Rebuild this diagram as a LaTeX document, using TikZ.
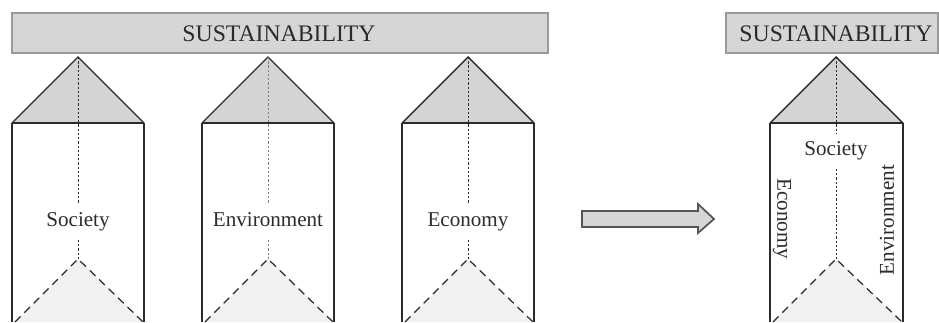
\documentclass[tikz,border=0pt]{standalone}
\usepackage{fontspec}
\setmainfont{Liberation Serif}
\usetikzlibrary{positioning}
\definecolor{bargray}{HTML}{D6D6D6}
\definecolor{barline}{HTML}{9A9A9A}
\definecolor{roofgray}{HTML}{D4D4D4}
\definecolor{floorgray}{HTML}{F1F1F1}
\definecolor{inkgray}{HTML}{2B2B2B}
\tikzset{
  every node/.style={text=inkgray},
  bar/.style={draw=barline, fill=bargray, line width=0.8pt},
  bartext/.style={font=\fontsize{13.5}{16}\selectfont, inner sep=0pt},
  pillartext/.style={font=\fontsize{12}{14}\selectfont, inner sep=1pt, text height=8pt, text depth=2.6pt, minimum height=0.7cm},
  roof/.style={draw=inkgray, line width=0.8pt, line join=miter},
  wall/.style={draw=inkgray, line width=0.9pt},
  beam/.style={draw=inkgray, line width=1.3pt},
  floorline/.style={draw=inkgray, line width=0.7pt, dash pattern=on 4.5pt off 3pt},
  axis/.style={draw=inkgray, line width=0.5pt, dash pattern=on 1.3pt off 1.1pt},
  axislight/.style={draw=gray, line width=0.5pt, dash pattern=on 1.3pt off 1.1pt},
  bigarrow/.style={draw=inkgray!80, fill=bargray, line width=1pt, line join=miter},
}
\begin{document}
\begin{tikzpicture}[x=0.02cm,y=0.02cm]
                \useasboundingbox (0,0) rectangle (939,322);

                % top bars
                \draw[bar] (12,269) rectangle (548,309);
                \node[bartext] (sustLeft) at (279,288.5){SUSTAINABILITY};
                \draw[bar] (726,269) rectangle (938,309);
                \node[bartext] (sustRight) at (836,288.5){SUSTAINABILITY};

                % society
                \coordinate (apexA) at (78,265);
                \coordinate (lowA) at (78,63);
                \fill[roofgray] (12,199) -- (apexA) -- (144,199) -- cycle;
                \draw[roof] (12,199) -- (apexA) -- (144,199);
                \fill[floorgray] (lowA) -- (15,0) -- (143,0) -- cycle;
                \draw[floorline] (15,0) -- (lowA) -- (143,0);
                \node[pillartext] (societyA) at (78,100){Society};
                \draw[axis] (apexA) -- (societyA);
                \draw[axis] (societyA) -- (lowA);
                \draw[wall] (12,0) -- (12,199);
                \draw[wall] (144,0) -- (144,199);
                \draw[beam] (12,199) -- (144,199);

                % environment
                \coordinate (apexB) at (268,265);
                \coordinate (lowB) at (268,63);
                \fill[roofgray] (202,199) -- (apexB) -- (334,199) -- cycle;
                \draw[roof] (202,199) -- (apexB) -- (334,199);
                \fill[floorgray] (lowB) -- (205,0) -- (333,0) -- cycle;
                \draw[floorline] (205,0) -- (lowB) -- (333,0);
                \node[pillartext] (environmentB) at (268,100){Environment};
                \draw[axislight] (apexB) -- (environmentB);
                \draw[axislight] (environmentB) -- (lowB);
                \draw[wall] (202,0) -- (202,199);
                \draw[wall] (334,0) -- (334,199);
                \draw[beam] (202,199) -- (334,199);

                % economy
                \coordinate (apexC) at (468,265);
                \coordinate (lowC) at (468,63);
                \fill[roofgray] (402,199) -- (apexC) -- (534,199) -- cycle;
                \draw[roof] (402,199) -- (apexC) -- (534,199);
                \fill[floorgray] (lowC) -- (405,0) -- (533,0) -- cycle;
                \draw[floorline] (405,0) -- (lowC) -- (533,0);
                \node[pillartext] (economyC) at (468,100){Economy};
                \draw[axis] (apexC) -- (economyC);
                \draw[axis] (economyC) -- (lowC);
                \draw[wall] (402,0) -- (402,199);
                \draw[wall] (534,0) -- (534,199);
                \draw[beam] (402,199) -- (534,199);

                % arrow
                \draw[bigarrow] (582,111) -- (698,111) -- (698,118) -- (714,103) -- (698,89) -- (698,95) -- (582,95) -- cycle;

                % merged
                \coordinate (apexD) at (836,265);
                \coordinate (lowD) at (836,63);
                \fill[roofgray] (770,199) -- (apexD) -- (903,199) -- cycle;
                \draw[roof] (770,199) -- (apexD) -- (903,199);
                \fill[floorgray] (lowD) -- (773,0) -- (902,0) -- cycle;
                \draw[floorline] (773,0) -- (lowD) -- (902,0);
                \node[pillartext] (societyD) at (836,171){Society};
                \draw[axis] (apexD) -- (societyD);
                \draw[axis] (societyD) -- (lowD);
                \node[pillartext, rotate=-90] (economyD) at (782,103){Economy};
                \node[pillartext, rotate=90] (environmentD) at (889,102){Environment};
                \draw[wall] (770,0) -- (770,199);
                \draw[wall] (903,0) -- (903,199);
                \draw[beam] (770,199) -- (903,199);

\end{tikzpicture}
\end{document}
